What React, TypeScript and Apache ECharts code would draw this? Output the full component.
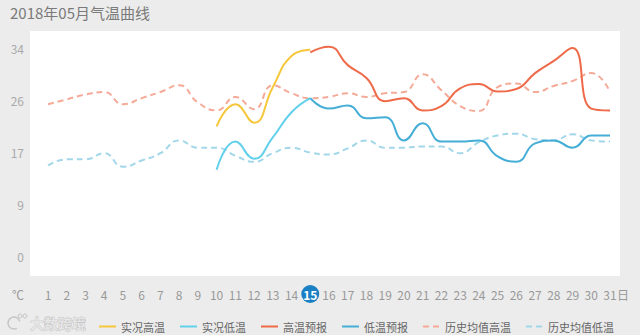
import React, { useEffect, useRef } from 'react';
import * as echarts from 'echarts';

const days = ['1', '2', '3', '4', '5', '6', '7', '8', '9', '10', '11', '12', '13', '14', '15', '16', '17', '18', '19', '20', '21', '22', '23', '24', '25', '26', '27', '28', '29', '30', '31'];
const highlightDay = '15';

// 历史均值高温 (all days)
const histHigh = [24.8, 25.6, 26.4, 26.8, 24.8, 25.8, 26.8, 27.9, 25.1, 23.8, 26.0, 24.0, 27.9, 26.6, 25.8, 26.0, 26.6, 26.0, 26.6, 26.8, 29.7, 27.1, 24.5, 23.7, 27.6, 28.2, 26.8, 27.8, 28.6, 29.9, 26.8];
// 历史均值低温 (all days)
const histLow = [14.8, 15.8, 15.8, 16.8, 14.6, 15.6, 16.8, 18.9, 17.7, 17.7, 16.4, 15.4, 16.8, 17.7, 16.9, 16.6, 17.6, 18.9, 17.7, 17.7, 17.9, 17.9, 16.8, 18.6, 19.7, 20.0, 19.1, 18.9, 19.9, 18.9, 18.7];
// 实况高温 / 实况低温 : days 10..15
const actualStart = 10;
const actualHigh = [21.2, 24.8, 21.8, 27.6, 32.7, 33.7];
const actualLow = [14.1, 18.7, 15.9, 19.4, 23.5, 25.8];
// 高温预报 / 低温预报 : days 15..31
const forecastStart = 15;
const forecastHigh = [33.3, 34.2, 31.2, 29.1, 25.3, 25.8, 23.8, 24.5, 27.4, 28.1, 26.9, 27.3, 29.9, 31.9, 34.0, 24.1, 23.8];
const forecastLow = [25.8, 24.1, 24.6, 22.5, 22.7, 18.9, 21.7, 18.7, 18.7, 18.9, 16.3, 15.4, 18.4, 18.9, 17.7, 19.7, 19.7];

const yMin = 0;
const yMax = 34;
const yInterval = 8.5;

const seriesNames = ['实况高温', '实况低温', '高温预报', '低温预报', '历史均值高温', '历史均值低温'];
const colors = ['#f6c73a', '#62d0ea', '#ee6a48', '#45aed6', '#f5aa98', '#a2d7ea'];

function placeFrom(start: number, values: number[]) {
  return days.map((_, i) => {
    const k = i - (start - 1);
    return k >= 0 && k < values.length ? values[k] : null;
  });
}

const FONT = '"Noto Sans CJK SC", "Noto Sans", sans-serif';

export default function App() {
  const ref = useRef<HTMLDivElement>(null);
  useEffect(() => {
    document.body.style.margin = '0';
    const chart = echarts.init(ref.current!, null, { renderer: 'svg' });
    const solid = (name: string, color: string, data: (number | null)[]) => ({
      name,
      type: 'line',
      data,
      smooth: true,
      symbol: 'none',
      clip: false,
      lineStyle: { color, width: 2 },
      itemStyle: { color },
      z: 3,
    });
    const dashed = (name: string, color: string, data: (number | null)[]) => ({
      name,
      type: 'line',
      data,
      smooth: true,
      symbol: 'none',
      clip: false,
      lineStyle: { color, width: 2, type: [6, 4] },
      itemStyle: { color },
      z: 2,
    });
    chart.setOption({
      animation: false,
      backgroundColor: '#ececec',
      textStyle: { fontFamily: FONT },
      grid: { left: 48, right: 30, top: 48, bottom: 79, containLabel: false, outerBoundsMode: 'none' },
      graphic: [
        {
          type: 'rect',
          z: -10,
          silent: true,
          shape: { x: 30, y: 31, width: 590, height: 245 },
          style: { fill: '#ffffff' },
        },
        {
          type: 'text',
          left: 10,
          top: 5,
          style: { text: '2018年05月气温曲线', fill: '#7a7a7a', font: `15px ${FONT}` },
        },
        {
          type: 'text',
          x: 18,
          y: 294,
          style: { text: '℃', fill: '#999', font: `12px ${FONT}`, align: 'center', verticalAlign: 'middle' },
        },
        {
          type: 'text',
          x: 623,
          y: 294,
          style: { text: '日', fill: '#999', font: `12px ${FONT}`, align: 'center', verticalAlign: 'middle' },
        },
        {
          type: 'group',
          children: [
            { type: 'arc', shape: { cx: 14, cy: 323, r: 6, startAngle: Math.PI * 0.35, endAngle: Math.PI * 1.9 }, style: { stroke: '#c4c4c4', lineWidth: 1.5, fill: 'none' } },
            { type: 'circle', shape: { cx: 20, cy: 316, r: 2 }, style: { stroke: '#c4c4c4', lineWidth: 1, fill: 'none' } },
            { type: 'circle', shape: { cx: 25, cy: 316, r: 2 }, style: { stroke: '#c4c4c4', lineWidth: 1, fill: 'none' } },
            {
              type: 'text',
              x: 30,
              y: 323,
              style: { text: '大数跨境', fill: '#e6e6e6', stroke: '#b8b8b8', lineWidth: 0.7, font: `bold 14px ${FONT}`, verticalAlign: 'middle' },
            },
          ],
        },
      ],
      legend: {
        left: 93,
        top: 316,
        itemWidth: 17,
        itemHeight: 10,
        itemGap: 14,
        data: seriesNames,
        itemStyle: { opacity: 0 },
        textStyle: { fontSize: 11, color: '#666', fontFamily: FONT },
      },
      xAxis: {
        type: 'category',
        data: days,
        boundaryGap: false,
        axisLine: { show: false },
        axisTick: { show: false },
        splitLine: { show: false },
        axisLabel: {
          interval: 0,
          margin: 29,
          color: '#999',
          fontSize: 12,
          lineHeight: 18,
          formatter: (v: string) => (v === highlightDay ? `{hl|${v}}` : v),
          rich: {
            hl: {
              backgroundColor: '#1b7fc3',
              color: '#fff',
              borderRadius: 9,
              width: 18,
              height: 18,
              lineHeight: 18,
              align: 'center',
              fontWeight: 'bold',
              fontSize: 12,
            },
          },
        },
      },
      yAxis: {
        type: 'value',
        min: yMin,
        max: yMax,
        interval: yInterval,
        axisLine: { show: false },
        axisTick: { show: false },
        splitLine: { show: false },
        axisLabel: {
          margin: 24,
          color: '#aaa',
          fontSize: 12,
          formatter: (v: number) => String(Math.round(v)),
        },
      },
      series: [
        solid(seriesNames[0], colors[0], placeFrom(actualStart, actualHigh)),
        solid(seriesNames[1], colors[1], placeFrom(actualStart, actualLow)),
        solid(seriesNames[2], colors[2], placeFrom(forecastStart, forecastHigh)),
        solid(seriesNames[3], colors[3], placeFrom(forecastStart, forecastLow)),
        dashed(seriesNames[4], colors[4], histHigh),
        dashed(seriesNames[5], colors[5], histLow),
      ],
    });
    return () => chart.dispose();
  }, []);
  return <div ref={ref} style={{ position: 'fixed', left: 0, top: 0, width: 640, height: 335 }} />;
}
